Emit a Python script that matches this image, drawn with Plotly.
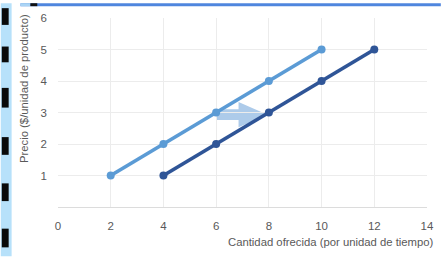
import plotly.graph_objects as go

# Data
qty_original = [2, 4, 6, 8, 10]
qty_shifted = [4, 6, 8, 10, 12]
price = [1, 2, 3, 4, 5]
x_ticks = [0, 2, 4, 6, 8, 10, 12, 14]
y_ticks = [1, 2, 3, 4, 5, 6]
arrow_from, arrow_to, arrow_price = 6, 8, 3

W, H = 446, 257
ML, MR, MT, MB = 58, 14, 15, 50
PW, PH = W - ML - MR, H - MT - MB

def px(x):
    return (x - ML) / PW

def py(y):
    return (H - MB - y) / PH

fig = go.Figure()
fig.add_trace(go.Scatter(x=qty_original, y=price, mode="lines+markers",
                         line=dict(color="#5b9bd5", width=3.7),
                         marker=dict(size=8, color="#5b9bd5"), showlegend=False))
fig.add_trace(go.Scatter(x=qty_shifted, y=price, mode="lines+markers",
                         line=dict(color="#2f5597", width=3.7),
                         marker=dict(size=8, color="#2f5597"), showlegend=False))

shapes = []
# block arrow (data coords)
a0, a1, yc = arrow_from, arrow_to, arrow_price - 0.07
hx = a0 + 0.85
path = (f"M {a0},{yc+0.17} L {hx},{yc+0.17} L {hx},{yc+0.4} L {a1-0.05},{yc} "
        f"L {hx},{yc-0.4} L {hx},{yc-0.17} L {a0},{yc-0.17} Z")
shapes.append(dict(type="path", path=path, xref="x", yref="y", layer="below",
                   fillcolor="#adcbea", line=dict(width=0)))

# left decoration strip
shapes.append(dict(type="rect", xref="paper", yref="paper", x0=px(0), x1=px(11),
                   y0=py(H), y1=py(0), fillcolor="#b7e1fa", line=dict(width=0), layer="above"))
for (y0, y1) in [(5, 22), (44, 60), (86, 106), (136, 154), (183, 201), (229, 248)]:
    shapes.append(dict(type="rect", xref="paper", yref="paper", x0=px(1), x1=px(8),
                       y0=py(y1), y1=py(y0), fillcolor="#0a0a0a", line=dict(width=0), layer="above"))
# top bar
shapes.append(dict(type="rect", xref="paper", yref="paper", x0=px(20), x1=px(W),
                   y0=py(3), y1=py(0), fillcolor="#4f86de", line=dict(width=0), layer="above"))
shapes.append(dict(type="rect", xref="paper", yref="paper", x0=px(20), x1=px(30),
                   y0=py(3), y1=py(0), fillcolor="#a9d4f5", line=dict(width=0), layer="above"))
shapes.append(dict(type="rect", xref="paper", yref="paper", x0=px(30), x1=px(37),
                   y0=py(3), y1=py(0), fillcolor="#111111", line=dict(width=0), layer="above"))

font = dict(family="Liberation Sans, Arial, sans-serif", size=11.3, color="#595959")
tfont = dict(family="Liberation Sans, Arial, sans-serif", size=11.5, color="#595959")

fig.update_layout(
    width=W, height=H,
    margin=dict(l=ML, r=MR, t=MT, b=MB),
    paper_bgcolor="white", plot_bgcolor="white",
    font=font,
    shapes=shapes,
    xaxis=dict(range=[0, 14], tickvals=x_ticks, showgrid=True, gridcolor="#ececec",
               gridwidth=1, zeroline=False, showline=False, ticks="",
               ticklabelstandoff=10, tickfont=tfont),
    yaxis=dict(range=[0, 6], tickvals=y_ticks, showgrid=True, gridcolor="#ececec",
               gridwidth=1, zeroline=True, zerolinecolor="#dcdcdc", zerolinewidth=1,
               showline=False, ticks="", ticklabelstandoff=10, tickfont=tfont),
    annotations=[
        dict(text="Cantidad ofrecida (por unidad de tiempo)", xref="paper", yref="paper",
             x=px(441), y=py(243), xanchor="right", yanchor="middle", showarrow=False,
             font=font),
        dict(text="Precio ($/unidad de producto)", xref="paper", yref="paper",
             x=px(23), y=py(9), xanchor="center", yanchor="top", textangle=-90,
             showarrow=False, font=font),
    ],
)
fig.write_html("out.html", config={"displayModeBar": False},
               post_script="document.body.style.margin='0';document.body.style.padding='0';")
